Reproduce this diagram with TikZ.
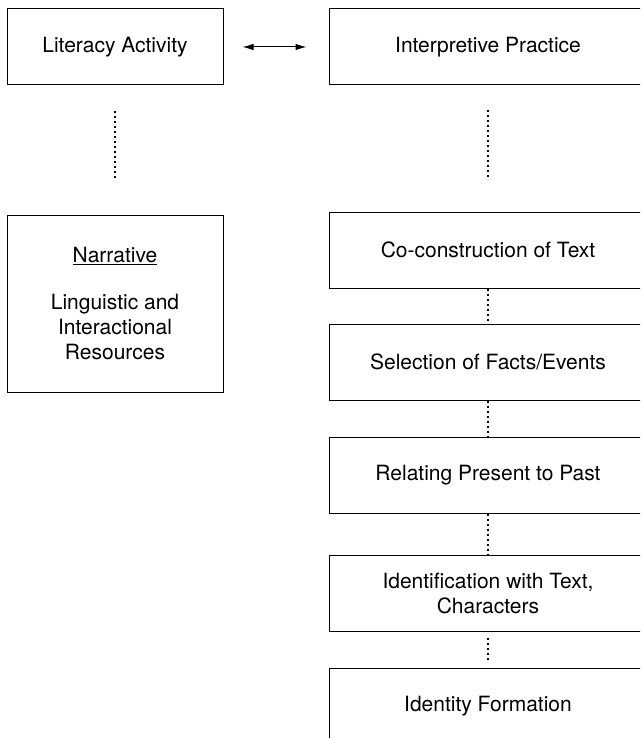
\documentclass[tikz,border=0pt]{standalone}
\usepackage{fontspec}
\setmainfont{TeX Gyre Heros}
\usetikzlibrary{arrows.meta,positioning}

\begin{document}
\begin{tikzpicture}[
  x=1pt,y=-1pt,
  boxnode/.style={draw,line width=1pt,minimum height=76pt,align=center,
    inner sep=0pt,font=\fontsize{21}{25}\selectfont},
  leftnode/.style={boxnode,minimum width=216pt},
  rightnode/.style={boxnode,minimum width=318pt},
  ]
  \tikzset{%
    link/.style={
      line width=1.2pt,
      dash pattern=on 2pt off 3pt,
    },
  }
  \path[use as bounding box,clip] (0,0) rectangle (640,738);
  %Nodes
  \node[leftnode](lit) at (115,47){Literacy Activity};
  \node[rightnode](interp) at (488,47){Interpretive Practice};
  \node[leftnode,minimum height=177pt](narr) at (115,303.5){\underline{Narrative}\\[22pt]Linguistic and\\Interactional\\Resources};
  \node[rightnode](coc) at (488,250){Co-construction of Text};
  \node[rightnode](sel) at (488,362){Selection of Facts/Events};
  \node[rightnode](rel) at (488,475){Relating Present to Past};
  \node[rightnode](ident) at (488,593.5){Identification with Text,\\Characters};
  \node[rightnode](form) at (488,706){Identity Formation};
  %Lines
  \draw[{Latex[length=11pt,width=6.5pt]}-{Latex[length=11pt,width=6.5pt]},line width=1pt,
    shorten <=19pt,shorten >=22pt] (lit) -- (interp);
  \draw[link,shorten <=26pt,shorten >=34pt] (lit) -- (narr);
  \draw[link,shorten <=25pt,shorten >=31pt] (interp) -- (coc);
  \draw[link,shorten <=6pt,shorten >=6pt]
    (coc) -- (sel)
    (sel) -- (rel)
    (rel) -- (ident)
    (ident) -- (form)
    ;
\end{tikzpicture}
\end{document}
